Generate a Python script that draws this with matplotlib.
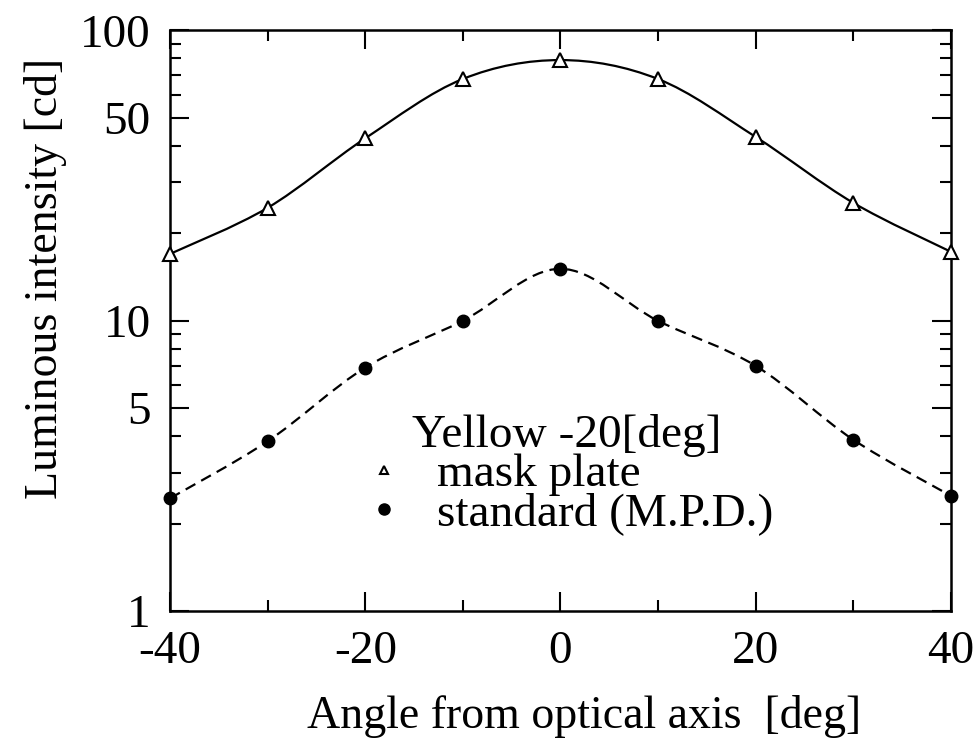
import numpy as np
import matplotlib
matplotlib.use("Agg")
import matplotlib.pyplot as plt
from matplotlib.path import Path
from matplotlib.patches import PathPatch
from matplotlib.lines import Line2D
from matplotlib.ticker import FixedLocator, NullFormatter

plt.rcParams["font.family"] = ["Liberation Serif", "DejaVu Serif"]

# data
angle = [-40, -30, -20, -10, 0, 10, 20, 30, 40]
mask_plate = [17.0, 24.5, 42.5, 68.0, 79.0, 68.0, 43.0, 25.5, 17.3]
standard = [2.45, 3.85, 6.9, 10.0, 15.1, 10.0, 7.0, 3.9, 2.5]

x_ticks = [-40, -20, 0, 20, 40]
x_minor = [-30, -10, 10, 30]
y_ticks = [1, 5, 10, 50, 100]
y_tick_labels = ["1", "5", "10", "50", "100"]
y_minor = [2, 3, 4, 6, 7, 8, 9, 20, 30, 40, 60, 70, 80, 90]

FS = 34
LABEL_FS = 33


def smooth_path(xs, ys):
    # Catmull-Rom through the points (in log-y space), drawn as Bezier curves
    lx = np.array(xs, float)
    ly = np.log10(np.array(ys, float))
    n = len(lx)
    verts = [(lx[0], ly[0])]
    codes = [Path.MOVETO]
    for i in range(n - 1):
        p0 = (lx[max(i - 1, 0)], ly[max(i - 1, 0)])
        p1 = (lx[i], ly[i])
        p2 = (lx[i + 1], ly[i + 1])
        p3 = (lx[min(i + 2, n - 1)], ly[min(i + 2, n - 1)])
        c1 = (p1[0] + (p2[0] - p0[0]) / 6, p1[1] + (p2[1] - p0[1]) / 6)
        c2 = (p2[0] - (p3[0] - p1[0]) / 6, p2[1] - (p3[1] - p1[1]) / 6)
        verts += [c1, c2, p2]
        codes += [Path.CURVE4] * 3
    verts = [(vx, 10 ** vy) for vx, vy in verts]
    return Path(verts, codes)


fig = plt.figure(figsize=(9.78, 7.4), dpi=100)
ax = fig.add_axes([0.174, 0.174, 0.798, 0.785])
ax.set_yscale("log")
ax.set_xlim(-40, 40)
ax.set_ylim(1, 100)

ax.add_patch(PathPatch(smooth_path(angle, mask_plate), fill=False,
                       lw=1.6, color="black", clip_on=False))
ax.add_patch(PathPatch(smooth_path(angle, standard), fill=False,
                       lw=1.6, color="black", linestyle=(0, (5, 3)),
                       clip_on=False))

ax.plot(angle, mask_plate, linestyle="none", marker="^", ms=10,
        mfc="white", mec="black", mew=1.5, clip_on=False, zorder=5)
ax.plot(angle, standard, linestyle="none", marker="o", ms=9,
        mfc="black", mec="black", clip_on=False, zorder=5)

ax.xaxis.set_major_locator(FixedLocator(x_ticks))
ax.xaxis.set_minor_locator(FixedLocator(x_minor))
ax.set_xticklabels([str(v) for v in x_ticks])
ax.yaxis.set_major_locator(FixedLocator(y_ticks))
ax.yaxis.set_minor_locator(FixedLocator(y_minor))
ax.yaxis.set_minor_formatter(NullFormatter())
ax.set_yticklabels(y_tick_labels)

ax.tick_params(which="both", direction="in", top=True, right=True,
               labelsize=FS, width=1.5)
ax.tick_params(which="major", length=14)
ax.tick_params(which="minor", length=8)
ax.tick_params(axis="x", which="major", pad=14)
ax.tick_params(axis="y", which="major", pad=14)
for s in ax.spines.values():
    s.set_linewidth(1.8)

ax.set_xlabel("Angle from optical axis  [deg]", fontsize=LABEL_FS)
ax.set_ylabel("Luminous intensity [cd]", fontsize=LABEL_FS)
ax.xaxis.set_label_coords(0.53, -0.145)
ax.yaxis.set_label_coords(-0.132, 0.573)

handles = [
    Line2D([], [], linestyle="none", marker="^", ms=6, mfc="white",
           mec="black", mew=1.5),
    Line2D([], [], linestyle="none", marker="o", ms=8, mfc="black",
           mec="black"),
]
leg = ax.legend(handles, ["mask plate", "standard (M.P.D.)"],
                title="Yellow -20[deg]", loc="center",
                bbox_to_anchor=(0.508, 0.235), frameon=False, fontsize=FS,
                title_fontsize=FS, labelspacing=-0.08, handlelength=1.0,
                handletextpad=0.62, borderpad=0)

fig.savefig("out.png", dpi=100)
